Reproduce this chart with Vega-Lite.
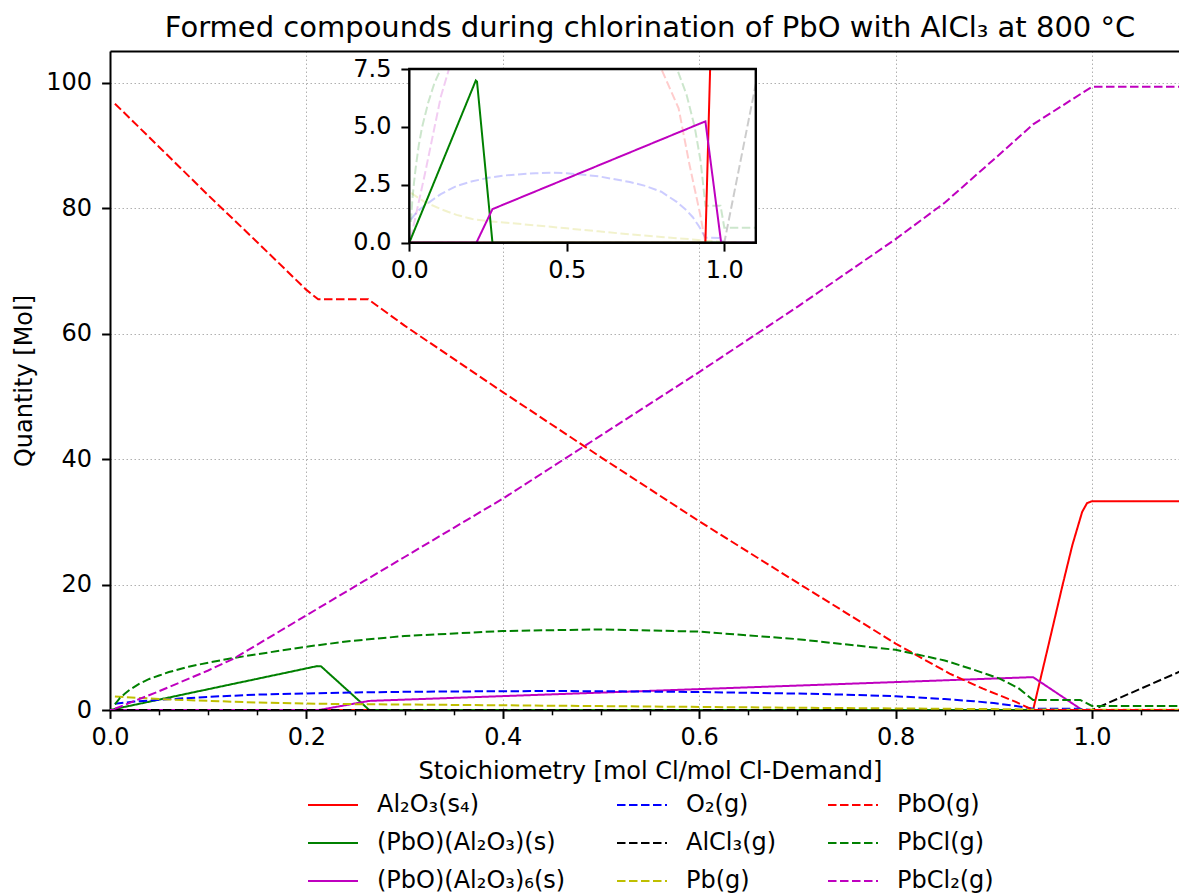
{
  "$schema": "https://vega.github.io/schema/vega-lite/v6.json",
  "width": 1069,
  "height": 659,
  "autosize": {"type": "none"},
  "padding": {"left": 110, "top": 51, "right": 0, "bottom": 186},
  "background": "white",
  "config": {
    "font": "DejaVu Sans",
    "view": {"stroke": null},
    "axis": {"labelFont": "DejaVu Sans", "titleFont": "DejaVu Sans", "labelColor": "black", "titleColor": "black", "titleFontWeight": "normal", "labelFontSize": 24, "titleFontSize": 24, "tickColor": "black", "domainColor": "black", "labelFlush": false, "labelOverlap": false}
  },
  "title": {"text": "Formed compounds during chlorination of PbO with AlCl₃ at 800 °C", "font": "DejaVu Sans", "fontSize": 29, "fontWeight": "normal", "color": "black", "anchor": "middle", "dx": 5.5, "offset": 8},
  "datasets": {
    "d": [
      {"compound": "Al₂O₃(s₄)", "ratio": 0, "mol": 0},
      {"compound": "Al₂O₃(s₄)", "ratio": 0.94, "mol": 0},
      {"compound": "Al₂O₃(s₄)", "ratio": 0.955, "mol": 9.9},
      {"compound": "Al₂O₃(s₄)", "ratio": 0.97, "mol": 19.9},
      {"compound": "Al₂O₃(s₄)", "ratio": 0.98, "mol": 26.3},
      {"compound": "Al₂O₃(s₄)", "ratio": 0.99, "mol": 31.6},
      {"compound": "Al₂O₃(s₄)", "ratio": 0.995, "mol": 33.0},
      {"compound": "Al₂O₃(s₄)", "ratio": 1.0, "mol": 33.3},
      {"compound": "Al₂O₃(s₄)", "ratio": 1.1, "mol": 33.3},
      {"compound": "(PbO)(Al₂O₃)(s)", "ratio": 0, "mol": 0},
      {"compound": "(PbO)(Al₂O₃)(s)", "ratio": 0.211, "mol": 7.0},
      {"compound": "(PbO)(Al₂O₃)(s)", "ratio": 0.215, "mol": 6.95},
      {"compound": "(PbO)(Al₂O₃)(s)", "ratio": 0.264, "mol": 0},
      {"compound": "(PbO)(Al₂O₃)(s)", "ratio": 1.1, "mol": 0},
      {"compound": "(PbO)(Al₂O₃)₆(s)", "ratio": 0, "mol": 0},
      {"compound": "(PbO)(Al₂O₃)₆(s)", "ratio": 0.213, "mol": 0},
      {"compound": "(PbO)(Al₂O₃)₆(s)", "ratio": 0.264, "mol": 1.45},
      {"compound": "(PbO)(Al₂O₃)₆(s)", "ratio": 0.94, "mol": 5.24},
      {"compound": "(PbO)(Al₂O₃)₆(s)", "ratio": 0.99, "mol": 0},
      {"compound": "(PbO)(Al₂O₃)₆(s)", "ratio": 1.1, "mol": 0},
      {"compound": "O₂(g)", "ratio": 0.005, "mol": 1.0},
      {"compound": "O₂(g)", "ratio": 0.025, "mol": 1.35},
      {"compound": "O₂(g)", "ratio": 0.05, "mol": 1.62},
      {"compound": "O₂(g)", "ratio": 0.1, "mol": 2.1},
      {"compound": "O₂(g)", "ratio": 0.15, "mol": 2.45},
      {"compound": "O₂(g)", "ratio": 0.2, "mol": 2.65},
      {"compound": "O₂(g)", "ratio": 0.25, "mol": 2.8},
      {"compound": "O₂(g)", "ratio": 0.3, "mol": 2.9},
      {"compound": "O₂(g)", "ratio": 0.4, "mol": 3.0},
      {"compound": "O₂(g)", "ratio": 0.45, "mol": 3.02},
      {"compound": "O₂(g)", "ratio": 0.5, "mol": 3.0},
      {"compound": "O₂(g)", "ratio": 0.6, "mol": 2.87},
      {"compound": "O₂(g)", "ratio": 0.7, "mol": 2.62},
      {"compound": "O₂(g)", "ratio": 0.75, "mol": 2.45},
      {"compound": "O₂(g)", "ratio": 0.8, "mol": 2.2},
      {"compound": "O₂(g)", "ratio": 0.85, "mol": 1.75},
      {"compound": "O₂(g)", "ratio": 0.88, "mol": 1.4},
      {"compound": "O₂(g)", "ratio": 0.9, "mol": 1.1},
      {"compound": "O₂(g)", "ratio": 0.92, "mol": 0.7},
      {"compound": "O₂(g)", "ratio": 0.93, "mol": 0.45},
      {"compound": "O₂(g)", "ratio": 0.94, "mol": 0.22},
      {"compound": "O₂(g)", "ratio": 0.985, "mol": 0.2},
      {"compound": "O₂(g)", "ratio": 1.0, "mol": 0},
      {"compound": "O₂(g)", "ratio": 1.1, "mol": 0},
      {"compound": "AlCl₃(g)", "ratio": 0.005, "mol": 0},
      {"compound": "AlCl₃(g)", "ratio": 1.0, "mol": 0},
      {"compound": "AlCl₃(g)", "ratio": 1.1, "mol": 6.85},
      {"compound": "Pb(g)", "ratio": 0.005, "mol": 2.15},
      {"compound": "Pb(g)", "ratio": 0.05, "mol": 1.75},
      {"compound": "Pb(g)", "ratio": 0.1, "mol": 1.45},
      {"compound": "Pb(g)", "ratio": 0.15, "mol": 1.2},
      {"compound": "Pb(g)", "ratio": 0.2, "mol": 1.02},
      {"compound": "Pb(g)", "ratio": 0.25, "mol": 0.93},
      {"compound": "Pb(g)", "ratio": 0.3, "mol": 0.87},
      {"compound": "Pb(g)", "ratio": 0.4, "mol": 0.75},
      {"compound": "Pb(g)", "ratio": 0.5, "mol": 0.62},
      {"compound": "Pb(g)", "ratio": 0.6, "mol": 0.49},
      {"compound": "Pb(g)", "ratio": 0.7, "mol": 0.36},
      {"compound": "Pb(g)", "ratio": 0.8, "mol": 0.25},
      {"compound": "Pb(g)", "ratio": 0.9, "mol": 0.14},
      {"compound": "Pb(g)", "ratio": 0.94, "mol": 0.08},
      {"compound": "Pb(g)", "ratio": 1.0, "mol": 0.03},
      {"compound": "Pb(g)", "ratio": 1.1, "mol": 0.02},
      {"compound": "PbO(g)", "ratio": 0.005, "mol": 96.7},
      {"compound": "PbO(g)", "ratio": 0.05, "mol": 89.8},
      {"compound": "PbO(g)", "ratio": 0.1, "mol": 82.1},
      {"compound": "PbO(g)", "ratio": 0.15, "mol": 74.6},
      {"compound": "PbO(g)", "ratio": 0.2, "mol": 67.0},
      {"compound": "PbO(g)", "ratio": 0.212, "mol": 65.5},
      {"compound": "PbO(g)", "ratio": 0.263, "mol": 65.5},
      {"compound": "PbO(g)", "ratio": 0.3, "mol": 61.3},
      {"compound": "PbO(g)", "ratio": 0.4, "mol": 50.7},
      {"compound": "PbO(g)", "ratio": 0.5, "mol": 40.3},
      {"compound": "PbO(g)", "ratio": 0.6, "mol": 30.1},
      {"compound": "PbO(g)", "ratio": 0.7, "mol": 20.3},
      {"compound": "PbO(g)", "ratio": 0.8, "mol": 10.6},
      {"compound": "PbO(g)", "ratio": 0.855, "mol": 5.8},
      {"compound": "PbO(g)", "ratio": 0.889, "mol": 3.4},
      {"compound": "PbO(g)", "ratio": 0.923, "mol": 1.25},
      {"compound": "PbO(g)", "ratio": 0.94, "mol": 0},
      {"compound": "PbO(g)", "ratio": 1.0, "mol": 0},
      {"compound": "PbO(g)", "ratio": 1.1, "mol": 0},
      {"compound": "PbCl(g)", "ratio": 0.005, "mol": 0.9},
      {"compound": "PbCl(g)", "ratio": 0.01, "mol": 1.9},
      {"compound": "PbCl(g)", "ratio": 0.015, "mol": 2.6},
      {"compound": "PbCl(g)", "ratio": 0.02, "mol": 3.2},
      {"compound": "PbCl(g)", "ratio": 0.03, "mol": 4.2},
      {"compound": "PbCl(g)", "ratio": 0.04, "mol": 4.95},
      {"compound": "PbCl(g)", "ratio": 0.05, "mol": 5.5},
      {"compound": "PbCl(g)", "ratio": 0.06, "mol": 6.05},
      {"compound": "PbCl(g)", "ratio": 0.08, "mol": 6.9},
      {"compound": "PbCl(g)", "ratio": 0.1, "mol": 7.55},
      {"compound": "PbCl(g)", "ratio": 0.126, "mol": 8.3},
      {"compound": "PbCl(g)", "ratio": 0.15, "mol": 8.9},
      {"compound": "PbCl(g)", "ratio": 0.2, "mol": 10.1},
      {"compound": "PbCl(g)", "ratio": 0.245, "mol": 11.0},
      {"compound": "PbCl(g)", "ratio": 0.3, "mol": 11.8},
      {"compound": "PbCl(g)", "ratio": 0.4, "mol": 12.6},
      {"compound": "PbCl(g)", "ratio": 0.5, "mol": 12.85},
      {"compound": "PbCl(g)", "ratio": 0.6, "mol": 12.5},
      {"compound": "PbCl(g)", "ratio": 0.7, "mol": 11.3},
      {"compound": "PbCl(g)", "ratio": 0.8, "mol": 9.6},
      {"compound": "PbCl(g)", "ratio": 0.85, "mol": 7.9},
      {"compound": "PbCl(g)", "ratio": 0.88, "mol": 6.4},
      {"compound": "PbCl(g)", "ratio": 0.906, "mol": 5.0},
      {"compound": "PbCl(g)", "ratio": 0.925, "mol": 3.5},
      {"compound": "PbCl(g)", "ratio": 0.94, "mol": 1.6},
      {"compound": "PbCl(g)", "ratio": 0.988, "mol": 1.6},
      {"compound": "PbCl(g)", "ratio": 1.0, "mol": 0.65},
      {"compound": "PbCl(g)", "ratio": 1.1, "mol": 0.65},
      {"compound": "PbCl₂(g)", "ratio": 0.005, "mol": 0.2},
      {"compound": "PbCl₂(g)", "ratio": 0.05, "mol": 3.0},
      {"compound": "PbCl₂(g)", "ratio": 0.1, "mol": 6.3},
      {"compound": "PbCl₂(g)", "ratio": 0.126, "mol": 8.2},
      {"compound": "PbCl₂(g)", "ratio": 0.2, "mol": 15.1},
      {"compound": "PbCl₂(g)", "ratio": 0.258, "mol": 20.5},
      {"compound": "PbCl₂(g)", "ratio": 0.3, "mol": 24.4},
      {"compound": "PbCl₂(g)", "ratio": 0.4, "mol": 33.7},
      {"compound": "PbCl₂(g)", "ratio": 0.5, "mol": 43.8},
      {"compound": "PbCl₂(g)", "ratio": 0.6, "mol": 53.9},
      {"compound": "PbCl₂(g)", "ratio": 0.7, "mol": 64.3},
      {"compound": "PbCl₂(g)", "ratio": 0.8, "mol": 75.1},
      {"compound": "PbCl₂(g)", "ratio": 0.85, "mol": 80.9},
      {"compound": "PbCl₂(g)", "ratio": 0.9, "mol": 87.8},
      {"compound": "PbCl₂(g)", "ratio": 0.94, "mol": 93.4},
      {"compound": "PbCl₂(g)", "ratio": 1.0, "mol": 99.4},
      {"compound": "PbCl₂(g)", "ratio": 1.1, "mol": 99.4}
    ]
  },
  "data": {"name": "d"},
  "layer": [
    {
      "mark": {"type": "line", "clip": true, "strokeWidth": 2},
      "encoding": {
        "x": {"field": "ratio", "type": "quantitative",
          "scale": {"domain": [0, 1.0886], "nice": false, "zero": false},
          "axis": {"orient": "bottom", "values": [0, 0.2, 0.4, 0.6, 0.8, 1.0], "format": ".1f", "tickSize": 8.4, "tickWidth": 2, "domainWidth": 2, "labelPadding": 7, "grid": true, "gridDash": [1.5, 2.5], "gridColor": "#b0b0b0", "gridWidth": 1, "title": "Stoichiometry [mol Cl/mol Cl-Demand]", "titleX": 540, "titleY": 68, "titleBaseline": "alphabetic"}},
        "y": {"field": "mol", "type": "quantitative",
          "scale": {"domain": [0, 105.1], "nice": false, "zero": false},
          "axis": {"orient": "left", "values": [0, 20, 40, 60, 80, 100], "format": "d", "tickSize": 8.4, "tickWidth": 2, "domainWidth": 2, "labelPadding": 10, "grid": true, "gridDash": [1.5, 2.5], "gridColor": "#b0b0b0", "gridWidth": 1, "title": "Quantity [Mol]", "titleX": -78.5, "titleY": 329.5, "titleAngle": -90, "titleBaseline": "alphabetic"}},
        "color": {"field": "compound", "type": "nominal",
          "scale": {"domain": ["Al₂O₃(s₄)", "(PbO)(Al₂O₃)(s)", "(PbO)(Al₂O₃)₆(s)", "O₂(g)", "AlCl₃(g)", "Pb(g)", "PbO(g)", "PbCl(g)", "PbCl₂(g)"],
            "range": ["#ff0000", "#008000", "#bf00bf", "#0000ff", "#000000", "#bfbf00", "#ff0000", "#008000", "#bf00bf"]},
          "legend": {"orient": "none", "legendX": 197, "legendY": 728, "columns": 3, "title": null, "symbolType": "stroke", "symbolSize": 2500, "symbolStrokeWidth": 2, "labelFontSize": 24, "labelFont": "DejaVu Sans", "labelColor": "black", "labelOffset": 18, "columnPadding": 47, "rowPadding": 0, "padding": 0, "labelLimit": 400}},
        "strokeDash": {"field": "compound", "type": "nominal",
          "scale": {"domain": ["Al₂O₃(s₄)", "(PbO)(Al₂O₃)(s)", "(PbO)(Al₂O₃)₆(s)", "O₂(g)", "AlCl₃(g)", "Pb(g)", "PbO(g)", "PbCl(g)", "PbCl₂(g)"],
            "range": [[1, 0], [1, 0], [1, 0], [8.5, 3.5], [8.5, 3.5], [8.5, 3.5], [8.5, 3.5], [8.5, 3.5], [8.5, 3.5]]},
          "legend": {"orient": "none", "legendX": 197, "legendY": 728, "columns": 3, "title": null, "symbolType": "stroke", "symbolSize": 2500, "symbolStrokeWidth": 2, "labelFontSize": 24, "labelFont": "DejaVu Sans", "labelColor": "black", "labelOffset": 18, "columnPadding": 47, "rowPadding": 0, "padding": 0, "labelLimit": 400}}
      }
    },
    {
      "mark": {"type": "line", "opacity": 0},
      "encoding": {
        "x": {"field": "ratio", "type": "quantitative",
          "scale": {"domain": [0, 1.0886], "nice": false, "zero": false},
          "axis": {"orient": "bottom", "values": [0.05, 0.1, 0.15, 0.25, 0.3, 0.35, 0.45, 0.5, 0.55, 0.65, 0.7, 0.75, 0.85, 0.9, 0.95, 1.05], "labels": false, "domain": false, "grid": false, "tickSize": 4.8, "tickWidth": 1.5, "title": null}},
        "y": {"field": "mol", "type": "quantitative", "scale": {"domain": [0, 105.1], "nice": false}, "axis": null}
      }
    },
    {
      "mark": {"type": "line", "opacity": 0},
      "encoding": {
        "x": {"field": "ratio", "type": "quantitative",
          "scale": {"domain": [0, 1.0886], "nice": false, "zero": false},
          "axis": {"orient": "top", "labels": false, "ticks": false, "domain": true, "domainWidth": 2, "grid": false, "title": null}},
        "y": {"field": "mol", "type": "quantitative", "scale": {"domain": [0, 105.1], "nice": false}, "axis": null}
      }
    },
    {
      "layer": [
        {
          "data": {"values": [{}]},
          "mark": {"type": "rect", "fill": "white", "strokeWidth": 0},
          "encoding": {
            "x": {"datum": 0, "type": "quantitative", "scale": {"domain": [0, 1.1], "range": [299.3, 645.8], "nice": false, "zero": false, "clamp": true},
              "axis": {"orient": "bottom", "offset": -467.3, "values": [0, 0.5, 1.0], "format": ".1f", "tickSize": 8.4, "tickWidth": 2, "labelPadding": 7, "domain": false, "grid": false, "title": null}},
            "x2": {"datum": 1.1},
            "y": {"datum": 0, "type": "quantitative", "scale": {"domain": [0, 7.5], "range": [191.7, 18], "nice": false, "zero": false, "clamp": true},
              "axis": {"orient": "left", "offset": -299.3, "values": [0, 2.5, 5, 7.5], "format": ".1f", "tickSize": 8.4, "tickWidth": 2, "labelPadding": 10, "domain": false, "grid": false, "title": null}},
            "y2": {"datum": 7.5}
          }
        },
        {
          "transform": [{"filter": {"field": "compound", "oneOf": ["O₂(g)", "AlCl₃(g)", "Pb(g)", "PbO(g)", "PbCl(g)", "PbCl₂(g)"]}}],
          "mark": {"type": "line", "strokeWidth": 2, "opacity": 0.2},
          "encoding": {
            "x": {"field": "ratio", "type": "quantitative", "scale": {"domain": [0, 1.1], "range": [299.3, 645.8], "nice": false, "zero": false, "clamp": true}},
            "y": {"field": "mol", "type": "quantitative", "scale": {"domain": [0, 7.5], "range": [191.7, 18], "nice": false, "zero": false, "clamp": true}},
            "color": {"field": "compound", "type": "nominal",
              "scale": {"domain": ["Al₂O₃(s₄)", "(PbO)(Al₂O₃)(s)", "(PbO)(Al₂O₃)₆(s)", "O₂(g)", "AlCl₃(g)", "Pb(g)", "PbO(g)", "PbCl(g)", "PbCl₂(g)"],
                "range": ["#ff0000", "#008000", "#bf00bf", "#0000ff", "#000000", "#bfbf00", "#ff0000", "#008000", "#bf00bf"]},
              "legend": null},
            "strokeDash": {"field": "compound", "type": "nominal",
              "scale": {"domain": ["Al₂O₃(s₄)", "(PbO)(Al₂O₃)(s)", "(PbO)(Al₂O₃)₆(s)", "O₂(g)", "AlCl₃(g)", "Pb(g)", "PbO(g)", "PbCl(g)", "PbCl₂(g)"],
                "range": [[1, 0], [1, 0], [1, 0], [8.5, 3.5], [8.5, 3.5], [8.5, 3.5], [8.5, 3.5], [8.5, 3.5], [8.5, 3.5]]},
              "legend": null}
          }
        },
        {
          "transform": [{"filter": {"field": "compound", "oneOf": ["Al₂O₃(s₄)", "(PbO)(Al₂O₃)(s)", "(PbO)(Al₂O₃)₆(s)"]}}],
          "mark": {"type": "line", "strokeWidth": 2},
          "encoding": {
            "x": {"field": "ratio", "type": "quantitative", "scale": {"domain": [0, 1.1], "range": [299.3, 645.8], "nice": false, "zero": false, "clamp": true}},
            "y": {"field": "mol", "type": "quantitative", "scale": {"domain": [0, 7.5], "range": [191.7, 18], "nice": false, "zero": false, "clamp": true}},
            "color": {"field": "compound", "type": "nominal",
              "scale": {"domain": ["Al₂O₃(s₄)", "(PbO)(Al₂O₃)(s)", "(PbO)(Al₂O₃)₆(s)", "O₂(g)", "AlCl₃(g)", "Pb(g)", "PbO(g)", "PbCl(g)", "PbCl₂(g)"],
                "range": ["#ff0000", "#008000", "#bf00bf", "#0000ff", "#000000", "#bfbf00", "#ff0000", "#008000", "#bf00bf"]},
              "legend": null},
            "strokeDash": {"field": "compound", "type": "nominal",
              "scale": {"domain": ["Al₂O₃(s₄)", "(PbO)(Al₂O₃)(s)", "(PbO)(Al₂O₃)₆(s)", "O₂(g)", "AlCl₃(g)", "Pb(g)", "PbO(g)", "PbCl(g)", "PbCl₂(g)"],
                "range": [[1, 0], [1, 0], [1, 0], [8.5, 3.5], [8.5, 3.5], [8.5, 3.5], [8.5, 3.5], [8.5, 3.5], [8.5, 3.5]]},
              "legend": null}
          }
        },
        {
          "data": {"values": [{}]},
          "mark": {"type": "rect", "fillOpacity": 0, "stroke": "black", "strokeWidth": 2.4},
          "encoding": {
            "x": {"datum": 0, "type": "quantitative", "scale": {"domain": [0, 1.1], "range": [299.3, 645.8], "nice": false, "zero": false, "clamp": true}},
            "x2": {"datum": 1.1},
            "y": {"datum": 0, "type": "quantitative", "scale": {"domain": [0, 7.5], "range": [191.7, 18], "nice": false, "zero": false, "clamp": true}},
            "y2": {"datum": 7.5}
          }
        }
      ]
    }
  ],
  "resolve": {"scale": {"x": "independent", "y": "independent"}}
}
